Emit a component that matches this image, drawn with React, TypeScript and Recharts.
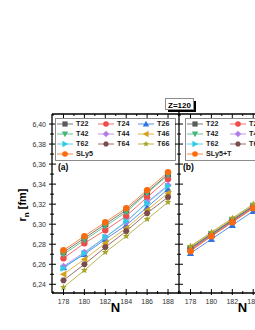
import React from 'react';
import { LineChart, Line, XAxis, YAxis, Legend } from 'recharts';

// neutron numbers and axis ticks
const N = [178, 180, 182, 184, 186, 188];
const xTicks = [177, 178, 179, 180, 181, 182, 183, 184, 185, 186, 187, 188, 189];
const yTicks = [6.24, 6.25, 6.26, 6.27, 6.28, 6.29, 6.3, 6.31, 6.32, 6.33, 6.34, 6.35, 6.36, 6.37, 6.38, 6.39, 6.4];

// panel (a): r_n without tensor in SLy5
const aT22 = [6.272, 6.286, 6.3, 6.314, 6.332, 6.35];
const aT24 = [6.266, 6.281, 6.294, 6.308, 6.327, 6.345];
const aT26 = [6.257, 6.27, 6.285, 6.299, 6.317, 6.335];
const aT42 = [6.27, 6.284, 6.298, 6.312, 6.331, 6.349];
const aT44 = [6.258, 6.272, 6.287, 6.302, 6.322, 6.339];
const aT46 = [6.25, 6.265, 6.281, 6.296, 6.314, 6.331];
const aT62 = [6.256, 6.271, 6.287, 6.303, 6.321, 6.338];
const aT64 = [6.244, 6.26, 6.277, 6.293, 6.311, 6.327];
const aT66 = [6.237, 6.254, 6.272, 6.288, 6.305, 6.322];
const aSLy5 = [6.274, 6.288, 6.302, 6.316, 6.334, 6.352];

// panel (b): SLy5+T
const bT22 = [6.275, 6.289, 6.303, 6.317, 6.332, 6.347];
const bT24 = [6.274, 6.288, 6.302, 6.316, 6.331, 6.346];
const bT26 = [6.271, 6.285, 6.299, 6.313, 6.328, 6.343];
const bT42 = [6.276, 6.29, 6.304, 6.318, 6.333, 6.348];
const bT44 = [6.275, 6.289, 6.303, 6.317, 6.332, 6.347];
const bT46 = [6.277, 6.291, 6.305, 6.319, 6.334, 6.349];
const bT62 = [6.276, 6.29, 6.304, 6.318, 6.333, 6.348];
const bT64 = [6.276, 6.29, 6.304, 6.318, 6.333, 6.348];
const bT66 = [6.278, 6.292, 6.306, 6.32, 6.335, 6.35];
const bSLy5T = [6.273, 6.288, 6.302, 6.316, 6.331, 6.346];

const styles: Record<string, { color: string; shape: string }> = {
  T22: { color: '#5a5a5a', shape: 'square' },
  T24: { color: '#ef4b4b', shape: 'circle' },
  T26: { color: '#2f74e0', shape: 'up' },
  T42: { color: '#45b67a', shape: 'down' },
  T44: { color: '#b47ce6', shape: 'diamond' },
  T46: { color: '#d5a11c', shape: 'left' },
  T62: { color: '#2ecbe6', shape: 'right' },
  T64: { color: '#7b4c4c', shape: 'hex' },
  T66: { color: '#a5a52a', shape: 'star' },
  SLy5: { color: '#fb6a0e', shape: 'circle' },
  'SLy5+T': { color: '#fb6a0e', shape: 'circle' },
};

const legendOrder = ['T22', 'T24', 'T26', 'T42', 'T44', 'T46', 'T62', 'T64', 'T66'];

const rowsA = N.map((n, i) => ({
  N: n,
  T22: aT22[i], T24: aT24[i], T26: aT26[i], T42: aT42[i], T44: aT44[i],
  T46: aT46[i], T62: aT62[i], T64: aT64[i], T66: aT66[i], SLy5: aSLy5[i],
}));
const rowsB = N.map((n, i) => ({
  N: n,
  T22: bT22[i], T24: bT24[i], T26: bT26[i], T42: bT42[i], T44: bT44[i],
  T46: bT46[i], T62: bT62[i], T64: bT64[i], T66: bT66[i], 'SLy5+T': bSLy5T[i],
}));

const xDomain = [176.9, 189.05];
const yDomain = [6.2313, 6.41];

function Marker({ cx, cy, shape, color, s = 3 }: any) {
  if (cx == null || cy == null) return null;
  const pts = (arr: number[][]) => arr.map((p) => `${cx + p[0]},${cy + p[1]}`).join(' ');
  const t = s + 0.6;
  switch (shape) {
    case 'square':
      return <rect x={cx - s} y={cy - s} width={2 * s} height={2 * s} fill={color} />;
    case 'circle':
      return <circle cx={cx} cy={cy} r={s + 0.2} fill={color} />;
    case 'up':
      return <polygon points={pts([[0, -t], [t, t * 0.8], [-t, t * 0.8]])} fill={color} />;
    case 'down':
      return <polygon points={pts([[0, t], [t, -t * 0.8], [-t, -t * 0.8]])} fill={color} />;
    case 'left':
      return <polygon points={pts([[-t, 0], [t * 0.8, -t], [t * 0.8, t]])} fill={color} />;
    case 'right':
      return <polygon points={pts([[t, 0], [-t * 0.8, -t], [-t * 0.8, t]])} fill={color} />;
    case 'diamond':
      return <polygon points={pts([[0, -t], [t, 0], [0, t], [-t, 0]])} fill={color} />;
    case 'hex': {
      const h = [0, 1, 2, 3, 4, 5].map((k) => [s * 1.1 * Math.cos((Math.PI / 3) * k), s * 1.1 * Math.sin((Math.PI / 3) * k)]);
      return <polygon points={pts(h)} fill={color} />;
    }
    case 'star': {
      const st = Array.from({ length: 10 }, (_, k) => {
        const r = k % 2 === 0 ? t : t * 0.45;
        const a = -Math.PI / 2 + (Math.PI / 5) * k;
        return [r * Math.cos(a), r * Math.sin(a)];
      });
      return <polygon points={pts(st)} fill={color} />;
    }
    default:
      return null;
  }
}

const fmt = (v: number) => v.toFixed(2).replace('.', ',');
const isMajorY = (v: number) => Math.round(v * 100) % 2 === 0;

const BottomTick = ({ x, y, payload }: any) => {
  const major = payload.value % 2 === 0;
  return (
    <g>
      <line x1={x} x2={x} y1={y - (major ? 4 : 2)} y2={y + (major ? 2 : 1)} stroke="#000" strokeWidth={1} />
      {major && (
        <text x={x} y={y + 10.5} textAnchor="middle" fontSize={7} fill="#333">
          {payload.value}
        </text>
      )}
    </g>
  );
};

const TopTick = ({ x, y, payload }: any) => {
  const major = payload.value % 2 === 0;
  return <line x1={x} x2={x} y1={y} y2={y + (major ? 4 : 2)} stroke="#000" strokeWidth={1} />;
};

const LeftTick = ({ x, y, payload }: any) => {
  const major = isMajorY(payload.value);
  return (
    <g>
      <line x1={x - (major ? 3 : 2)} x2={x + (major ? 4 : 2)} y1={y} y2={y} stroke="#000" strokeWidth={1} />
      {major && (
        <text x={x - 6} y={y + 2.5} textAnchor="end" fontSize={7} fill="#333">
          {fmt(payload.value)}
        </text>
      )}
    </g>
  );
};

const MidTick = ({ x, y, payload }: any) => {
  const major = isMajorY(payload.value);
  return <line x1={x - (major ? 4 : 2)} x2={x + (major ? 4 : 2)} y1={y} y2={y} stroke="#000" strokeWidth={1} />;
};

function LegendBox({ names, colW, width }: { names: string[]; colW: number[]; width: number }) {
  return (
    <div
      style={{
        width,
        height: 43,
        boxSizing: 'border-box',
        border: '1px solid #8c8c8c',
        background: '#fff',
        display: 'grid',
        gridTemplateColumns: colW.map((w) => `${w}px`).join(' '),
        gridAutoRows: '10px',
        fontFamily: '"Liberation Sans", Arial, sans-serif',
        overflow: 'hidden',
      }}
    >
      {names.map((nm) => {
        const st = styles[nm];
        return (
          <div key={nm} style={{ display: 'flex', alignItems: 'center', height: 10, whiteSpace: 'nowrap' }}>
            <svg width={18} height={10} style={{ display: 'block', flex: 'none' }}>
              <line x1={1} x2={17} y1={5} y2={5} stroke={st.color} strokeWidth={0.8} />
              <Marker cx={9} cy={5} s={2.6} shape={st.shape} color={st.color} />
            </svg>
            <span style={{ marginLeft: 2, fontSize: 7.2, fontWeight: 700, lineHeight: '10px', color: '#222' }}>{nm}</span>
          </div>
        );
      })}
    </div>
  );
}

function Panel({ rows, keys, left, width, yw, showLabels, legendLeft, legendW, colW, last }: any) {
  return (
    <div style={{ position: 'absolute', left, top: 0 }}>
      <LineChart width={width} height={330} data={rows} margin={{ top: 0, right: 10, bottom: 0, left: 0 }}>
        <XAxis
          xAxisId="top"
          orientation="top"
          type="number"
          dataKey="N"
          domain={xDomain}
          allowDataOverflow
          ticks={xTicks}
          interval={0}
          height={114}
          tickSize={0}
          tickMargin={0}
          tick={<TopTick />}
          axisLine={{ stroke: '#000', strokeWidth: 1.3 }}
        />
        <XAxis
          type="number"
          dataKey="N"
          domain={xDomain}
          allowDataOverflow
          ticks={xTicks}
          interval={0}
          height={37}
          tickSize={0}
          tickMargin={0}
          tick={<BottomTick />}
          axisLine={{ stroke: '#000', strokeWidth: 1.3 }}
          label={{ value: 'N', position: 'insideBottom', offset: 18, style: { fontSize: 13, fontWeight: 700, fill: '#000' } }}
        />
        <YAxis
          type="number"
          domain={yDomain}
          allowDataOverflow
          ticks={yTicks}
          interval={0}
          width={yw}
          tickSize={0}
          tickMargin={0}
          tick={showLabels ? <LeftTick /> : <MidTick />}
          axisLine={{ stroke: '#000', strokeWidth: 1.3 }}
        />
        <Legend
          layout="horizontal"
          verticalAlign="middle"
          align="center"
          wrapperStyle={{ left: legendLeft, top: 118, width: legendW, height: 43 }}
          content={() => <LegendBox names={[...legendOrder, last]} colW={colW} width={legendW} />}
        />
        {keys.map((k: string) => (
          <Line
            key={k}
            dataKey={k}
            stroke={styles[k].color}
            strokeWidth={0.8}
            isAnimationActive={false}
            activeDot={false}
            dot={(p: any) => <Marker key={`${k}-${p.index}`} cx={p.cx} cy={p.cy} s={3} shape={styles[k].shape} color={styles[k].color} />}
          />
        ))}
      </LineChart>
    </div>
  );
}

export default function App() {
  const keysA = [...legendOrder, 'SLy5'];
  const keysB = [...legendOrder, 'SLy5+T'];
  const font = '"Liberation Sans", Arial, sans-serif';
  return (
    <div
      style={{
        position: 'fixed',
        left: 0,
        top: 0,
        width: 255,
        height: 330,
        overflow: 'hidden',
        background: '#fff',
        fontFamily: font,
      }}
    >
      <Panel rows={rowsA} keys={keysA} left={0} width={189} yw={52} showLabels legendLeft={55} legendW={121} colW={[41, 40, 38]} last="SLy5" />
      <Panel rows={rowsB} keys={keysB} left={129} width={187} yw={50} showLabels={false} legendLeft={56} legendW={130} colW={[43, 43, 43]} last="SLy5+T" />
      <svg width={255} height={330} style={{ position: 'absolute', left: 0, top: 0, pointerEvents: 'none', fontFamily: font }}>
        <text transform="translate(26,205) rotate(-90)" textAnchor="middle" fontSize={11} fontWeight={700} fill="#000">
          r<tspan fontSize={8} dy={2.5}>n</tspan>
          <tspan dy={-2.5}> [fm]</tspan>
        </text>
        <text x={58} y={170} fontSize={8.5} fontWeight={700} fill="#000">(a)</text>
        <text x={183} y={170} fontSize={8.5} fontWeight={700} fill="#000">(b)</text>
        <line x1={179} x2={179} y1={108} y2={115} stroke="#000" strokeWidth={1.3} />
        <rect x={168} y={101} width={28} height={11} fill="#000" />
        <rect x={165.5} y={98.5} width={28} height={11} fill="#fff" stroke="#8c8c8c" strokeWidth={1} />
        <text x={179.5} y={107.5} textAnchor="middle" fontSize={8} fontWeight={700} fill="#000">Z=120</text>
      </svg>
    </div>
  );
}
